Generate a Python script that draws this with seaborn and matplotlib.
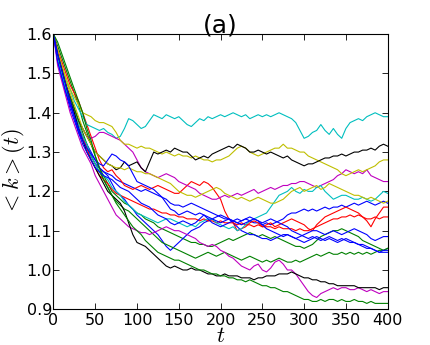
import matplotlib as mpl
mpl.use("Agg")
import seaborn as sns
import pandas as pd
import numpy as np
plt = mpl.pyplot

# <k>(t) for each run, sampled every 5 steps from t=0 to t=400
b1 = [1.6, 1.53, 1.49, 1.45, 1.41, 1.38, 1.35, 1.33, 1.31, 1.29, 1.27, 1.26, 1.25, 1.245, 1.24, 1.23, 1.225, 1.22, 1.215, 1.21,
      1.205, 1.2, 1.205, 1.2, 1.195, 1.19, 1.185, 1.18, 1.17, 1.165, 1.165, 1.16, 1.165, 1.17, 1.165, 1.16, 1.155, 1.15, 1.145, 1.14,
      1.135, 1.13, 1.13, 1.125, 1.13, 1.125, 1.13, 1.125, 1.12, 1.12, 1.115, 1.12, 1.115, 1.12, 1.125, 1.13, 1.14, 1.145, 1.145, 1.15,
      1.155, 1.15, 1.155, 1.15, 1.155, 1.16, 1.155, 1.16, 1.16, 1.165, 1.16, 1.165, 1.17, 1.165, 1.17, 1.175, 1.17, 1.165, 1.17, 1.175, 1.17]
g1 = [1.6, 1.57, 1.54, 1.51, 1.48, 1.45, 1.42, 1.38, 1.35, 1.32, 1.29, 1.26, 1.24, 1.22, 1.2, 1.19, 1.18, 1.17, 1.165, 1.155,
      1.145, 1.14, 1.13, 1.125, 1.12, 1.11, 1.105, 1.1, 1.095, 1.09, 1.085, 1.08, 1.075, 1.07, 1.07, 1.065, 1.065, 1.06, 1.06, 1.065,
      1.07, 1.075, 1.08, 1.075, 1.08, 1.085, 1.09, 1.095, 1.09, 1.085, 1.09, 1.085, 1.08, 1.085, 1.08, 1.075, 1.07, 1.065, 1.06, 1.06,
      1.055, 1.06, 1.065, 1.075, 1.085, 1.09, 1.095, 1.1, 1.1, 1.105, 1.1, 1.095, 1.09, 1.085, 1.075, 1.07, 1.065, 1.06, 1.055, 1.05, 1.055]
r1 = [1.6, 1.56, 1.53, 1.5, 1.47, 1.45, 1.43, 1.4, 1.37, 1.34, 1.31, 1.28, 1.26, 1.25, 1.255, 1.24, 1.23, 1.215, 1.21, 1.205,
      1.21, 1.215, 1.21, 1.205, 1.21, 1.215, 1.21, 1.205, 1.2, 1.195, 1.195, 1.205, 1.215, 1.225, 1.22, 1.215, 1.225, 1.22, 1.21, 1.195,
      1.18, 1.15, 1.13, 1.12, 1.1, 1.105, 1.11, 1.12, 1.125, 1.12, 1.11, 1.115, 1.12, 1.11, 1.115, 1.12, 1.125, 1.13, 1.125, 1.12,
      1.115, 1.105, 1.1, 1.115, 1.125, 1.135, 1.14, 1.145, 1.15, 1.155, 1.16, 1.155, 1.15, 1.145, 1.135, 1.125, 1.11, 1.13, 1.145, 1.16, 1.16]
c1 = [1.6, 1.55, 1.52, 1.48, 1.46, 1.43, 1.41, 1.39, 1.37, 1.365, 1.36, 1.355, 1.36, 1.35, 1.345, 1.335, 1.34, 1.36, 1.385, 1.38,
      1.37, 1.36, 1.365, 1.38, 1.395, 1.39, 1.385, 1.395, 1.39, 1.385, 1.39, 1.38, 1.37, 1.365, 1.375, 1.385, 1.38, 1.39, 1.385, 1.39,
      1.395, 1.39, 1.395, 1.4, 1.395, 1.39, 1.395, 1.385, 1.39, 1.395, 1.39, 1.395, 1.39, 1.395, 1.4, 1.395, 1.39, 1.385, 1.375, 1.355,
      1.335, 1.34, 1.35, 1.355, 1.37, 1.355, 1.345, 1.36, 1.345, 1.335, 1.36, 1.375, 1.38, 1.385, 1.38, 1.39, 1.395, 1.4, 1.395, 1.39, 1.39]
m1 = [1.6, 1.55, 1.51, 1.47, 1.44, 1.41, 1.38, 1.36, 1.34, 1.335, 1.34, 1.35, 1.35, 1.345, 1.34, 1.335, 1.33, 1.32, 1.31, 1.3,
      1.28, 1.26, 1.25, 1.245, 1.24, 1.235, 1.24, 1.245, 1.24, 1.235, 1.225, 1.22, 1.215, 1.21, 1.205, 1.195, 1.19, 1.185, 1.18, 1.18,
      1.185, 1.19, 1.185, 1.19, 1.195, 1.19, 1.195, 1.2, 1.205, 1.195, 1.2, 1.205, 1.21, 1.205, 1.21, 1.215, 1.215, 1.22, 1.22, 1.225,
      1.225, 1.22, 1.215, 1.21, 1.215, 1.22, 1.225, 1.23, 1.24, 1.245, 1.255, 1.25, 1.245, 1.25, 1.245, 1.255, 1.24, 1.235, 1.23, 1.225, 1.225]
y1 = [1.6, 1.55, 1.52, 1.49, 1.46, 1.44, 1.42, 1.4, 1.395, 1.39, 1.38, 1.375, 1.375, 1.37, 1.365, 1.35, 1.33, 1.32, 1.32, 1.315,
      1.31, 1.315, 1.31, 1.31, 1.305, 1.3, 1.295, 1.3, 1.295, 1.29, 1.295, 1.29, 1.29, 1.285, 1.29, 1.285, 1.28, 1.28, 1.275, 1.28,
      1.28, 1.285, 1.29, 1.3, 1.31, 1.315, 1.31, 1.3, 1.295, 1.29, 1.295, 1.3, 1.305, 1.31, 1.31, 1.32, 1.31, 1.31, 1.305, 1.3,
      1.3, 1.29, 1.285, 1.28, 1.275, 1.27, 1.265, 1.26, 1.255, 1.245, 1.24, 1.245, 1.25, 1.255, 1.25, 1.255, 1.26, 1.265, 1.275, 1.28, 1.28]
k1 = [1.6, 1.54, 1.51, 1.47, 1.44, 1.41, 1.38, 1.36, 1.34, 1.32, 1.3, 1.29, 1.28, 1.27, 1.265, 1.255, 1.26, 1.275, 1.265, 1.27,
      1.275, 1.26, 1.25, 1.275, 1.3, 1.295, 1.3, 1.305, 1.3, 1.31, 1.305, 1.3, 1.3, 1.29, 1.28, 1.285, 1.29, 1.285, 1.295, 1.3,
      1.305, 1.31, 1.315, 1.31, 1.32, 1.315, 1.31, 1.3, 1.3, 1.305, 1.3, 1.295, 1.3, 1.295, 1.29, 1.285, 1.29, 1.28, 1.275, 1.27,
      1.265, 1.27, 1.27, 1.275, 1.28, 1.285, 1.285, 1.29, 1.29, 1.295, 1.29, 1.295, 1.3, 1.3, 1.305, 1.305, 1.31, 1.305, 1.315, 1.32, 1.315]
b2 = [1.6, 1.54, 1.5, 1.46, 1.42, 1.39, 1.36, 1.34, 1.32, 1.3, 1.28, 1.26, 1.25, 1.24, 1.22, 1.2, 1.19, 1.18, 1.165, 1.155,
      1.14, 1.13, 1.12, 1.11, 1.1, 1.09, 1.075, 1.06, 1.05, 1.06, 1.07, 1.08, 1.09, 1.1, 1.105, 1.11, 1.12, 1.125, 1.13, 1.135,
      1.14, 1.135, 1.13, 1.12, 1.11, 1.1, 1.095, 1.09, 1.09, 1.085, 1.08, 1.08, 1.075, 1.08, 1.085, 1.09, 1.09, 1.085, 1.08, 1.085,
      1.09, 1.095, 1.1, 1.1, 1.095, 1.09, 1.095, 1.1, 1.095, 1.09, 1.095, 1.1, 1.105, 1.1, 1.095, 1.09, 1.08, 1.075, 1.08, 1.085, 1.085]
g2 = [1.6, 1.55, 1.51, 1.47, 1.44, 1.41, 1.38, 1.35, 1.32, 1.29, 1.27, 1.25, 1.23, 1.21, 1.19, 1.175, 1.165, 1.155, 1.15, 1.14,
      1.13, 1.12, 1.11, 1.1, 1.09, 1.08, 1.07, 1.065, 1.06, 1.055, 1.05, 1.045, 1.04, 1.035, 1.03, 1.035, 1.04, 1.045, 1.04, 1.035,
      1.04, 1.045, 1.04, 1.035, 1.03, 1.025, 1.03, 1.035, 1.03, 1.025, 1.02, 1.025, 1.02, 1.025, 1.03, 1.025, 1.02, 1.02, 1.025, 1.02,
      1.025, 1.03, 1.035, 1.04, 1.035, 1.04, 1.045, 1.04, 1.04, 1.045, 1.04, 1.045, 1.04, 1.045, 1.04, 1.045, 1.04, 1.045, 1.05, 1.05, 1.055]
r2 = [1.6, 1.55, 1.51, 1.47, 1.43, 1.4, 1.37, 1.34, 1.31, 1.28, 1.26, 1.24, 1.23, 1.22, 1.205, 1.195, 1.19, 1.185, 1.18, 1.175,
      1.17, 1.165, 1.16, 1.155, 1.155, 1.15, 1.145, 1.145, 1.14, 1.14, 1.135, 1.135, 1.13, 1.13, 1.13, 1.125, 1.13, 1.125, 1.125, 1.12,
      1.125, 1.12, 1.12, 1.12, 1.115, 1.12, 1.115, 1.115, 1.11, 1.115, 1.11, 1.11, 1.11, 1.105, 1.11, 1.105, 1.105, 1.105, 1.1, 1.105,
      1.1, 1.1, 1.105, 1.11, 1.115, 1.12, 1.125, 1.13, 1.13, 1.135, 1.135, 1.14, 1.135, 1.14, 1.135, 1.13, 1.13, 1.135, 1.13, 1.135, 1.135]
c2 = [1.6, 1.54, 1.5, 1.46, 1.43, 1.4, 1.37, 1.34, 1.32, 1.29, 1.27, 1.25, 1.24, 1.23, 1.21, 1.2, 1.19, 1.175, 1.165, 1.155,
      1.145, 1.14, 1.135, 1.13, 1.125, 1.12, 1.125, 1.13, 1.13, 1.125, 1.12, 1.115, 1.11, 1.115, 1.11, 1.12, 1.125, 1.13, 1.13, 1.12,
      1.115, 1.11, 1.105, 1.11, 1.1, 1.105, 1.115, 1.125, 1.13, 1.135, 1.14, 1.145, 1.16, 1.175, 1.19, 1.195, 1.2, 1.21, 1.2, 1.195,
      1.205, 1.2, 1.2, 1.21, 1.215, 1.2, 1.19, 1.18, 1.185, 1.19, 1.19, 1.185, 1.18, 1.18, 1.185, 1.18, 1.175, 1.18, 1.19, 1.2, 1.195]
m2 = [1.6, 1.52, 1.48, 1.44, 1.4, 1.37, 1.34, 1.31, 1.29, 1.27, 1.24, 1.22, 1.2, 1.18, 1.16, 1.14, 1.13, 1.12, 1.11, 1.105,
      1.1, 1.095, 1.095, 1.09, 1.095, 1.1, 1.105, 1.11, 1.105, 1.1, 1.1, 1.095, 1.09, 1.085, 1.08, 1.07, 1.065, 1.06, 1.065, 1.06,
      1.05, 1.045, 1.035, 1.03, 1.02, 1.01, 1.005, 1.0, 1.01, 1.015, 1.0, 0.995, 1.005, 1.02, 1.025, 1.015, 1.0, 1.0, 0.99, 0.975,
      0.96, 0.945, 0.935, 0.93, 0.94, 0.945, 0.95, 0.955, 0.95, 0.955, 0.955, 0.95, 0.95, 0.955, 0.95, 0.945, 0.95, 0.945, 0.94, 0.945, 0.945]
y2 = [1.6, 1.56, 1.52, 1.48, 1.45, 1.42, 1.39, 1.36, 1.34, 1.32, 1.3, 1.29, 1.28, 1.27, 1.265, 1.26, 1.26, 1.255, 1.26, 1.255,
      1.25, 1.25, 1.245, 1.245, 1.24, 1.235, 1.23, 1.225, 1.22, 1.21, 1.2, 1.195, 1.19, 1.19, 1.185, 1.19, 1.195, 1.2, 1.205, 1.21,
      1.205, 1.195, 1.19, 1.185, 1.18, 1.185, 1.18, 1.175, 1.18, 1.185, 1.18, 1.175, 1.17, 1.17, 1.175, 1.18, 1.19, 1.2, 1.205, 1.21,
      1.2, 1.205, 1.21, 1.215, 1.205, 1.21, 1.22, 1.215, 1.21, 1.205, 1.2, 1.195, 1.19, 1.19, 1.185, 1.18, 1.185, 1.18, 1.175, 1.17, 1.175]
k2 = [1.6, 1.55, 1.51, 1.47, 1.43, 1.4, 1.36, 1.33, 1.3, 1.28, 1.26, 1.24, 1.22, 1.2, 1.19, 1.18, 1.17, 1.15, 1.12, 1.09,
      1.07, 1.065, 1.06, 1.05, 1.04, 1.03, 1.02, 1.01, 1.005, 1.01, 1.005, 1.0, 1.0, 1.005, 1.0, 1.0, 0.995, 0.99, 0.99, 0.985,
      0.985, 0.99, 0.985, 0.985, 0.985, 0.98, 0.98, 0.98, 0.975, 0.98, 0.98, 0.985, 0.985, 0.985, 0.99, 0.99, 0.99, 0.995, 0.99, 0.985,
      0.98, 0.98, 0.975, 0.975, 0.97, 0.97, 0.965, 0.965, 0.96, 0.96, 0.96, 0.96, 0.96, 0.955, 0.955, 0.955, 0.955, 0.955, 0.95, 0.955, 0.955]
b3 = [1.6, 1.55, 1.51, 1.47, 1.43, 1.39, 1.36, 1.33, 1.31, 1.295, 1.28, 1.27, 1.265, 1.28, 1.295, 1.29, 1.28, 1.275, 1.265, 1.245,
      1.225, 1.22, 1.215, 1.21, 1.205, 1.195, 1.185, 1.17, 1.155, 1.15, 1.14, 1.145, 1.15, 1.145, 1.14, 1.145, 1.14, 1.135, 1.13, 1.125,
      1.12, 1.125, 1.13, 1.125, 1.12, 1.125, 1.13, 1.135, 1.13, 1.125, 1.12, 1.125, 1.13, 1.125, 1.12, 1.115, 1.11, 1.1, 1.095, 1.09,
      1.085, 1.08, 1.085, 1.08, 1.075, 1.08, 1.085, 1.08, 1.075, 1.08, 1.075, 1.07, 1.07, 1.065, 1.06, 1.055, 1.055, 1.05, 1.045, 1.045, 1.045]
g3 = [1.6, 1.58, 1.55, 1.52, 1.49, 1.46, 1.43, 1.4, 1.36, 1.33, 1.29, 1.26, 1.23, 1.21, 1.19, 1.17, 1.155, 1.14, 1.125, 1.11,
      1.1, 1.09, 1.075, 1.065, 1.055, 1.045, 1.04, 1.035, 1.03, 1.025, 1.025, 1.02, 1.015, 1.01, 1.005, 1.0, 1.0, 0.995, 0.99, 0.99,
      0.985, 0.985, 0.98, 0.98, 0.975, 0.975, 0.97, 0.975, 0.97, 0.965, 0.96, 0.96, 0.955, 0.955, 0.95, 0.945, 0.945, 0.94, 0.935, 0.93,
      0.925, 0.925, 0.92, 0.92, 0.925, 0.92, 0.925, 0.925, 0.92, 0.925, 0.92, 0.92, 0.925, 0.92, 0.92, 0.915, 0.92, 0.915, 0.915, 0.915, 0.915]
b4 = [1.6, 1.53, 1.49, 1.45, 1.42, 1.39, 1.35, 1.32, 1.3, 1.28, 1.26, 1.25, 1.24, 1.235, 1.23, 1.22, 1.21, 1.205, 1.2, 1.19,
      1.18, 1.17, 1.165, 1.16, 1.15, 1.14, 1.135, 1.13, 1.12, 1.115, 1.12, 1.125, 1.12, 1.115, 1.12, 1.13, 1.14, 1.13, 1.12, 1.115,
      1.11, 1.115, 1.12, 1.125, 1.12, 1.115, 1.12, 1.125, 1.13, 1.125, 1.115, 1.105, 1.1, 1.095, 1.09, 1.085, 1.09, 1.085, 1.08, 1.075,
      1.07, 1.075, 1.08, 1.085, 1.08, 1.075, 1.08, 1.075, 1.07, 1.075, 1.08, 1.075, 1.07, 1.065, 1.065, 1.06, 1.055, 1.05, 1.045, 1.05, 1.05]

runs = [b1, g1, r1, c1, m1, y1, k1, b2, g2, r2, c2, m2, y2, k2, b3, g3, b4]
colors = ['b', 'g', 'r', 'c', 'm', 'y', 'k', 'b', 'g', 'r', 'c', 'm', 'y', 'k', 'b', 'g', 'b']

frames = []
for i, vals in enumerate(runs):
    t = np.linspace(0, 400, len(vals))
    frames.append(pd.DataFrame({'t': t, 'k': vals, 'run': i}))
data = pd.concat(frames, ignore_index=True)

mpl.rcParams['mathtext.fontset'] = 'cm'
mpl.rcParams['font.family'] = 'DejaVu Sans'

fig = plt.figure(figsize=(4.31, 3.45), dpi=100)
ax = fig.add_axes([0.124, 0.1035, 0.7755, 0.7975])
sns.lineplot(data=data, x='t', y='k', hue='run', palette=colors, legend=False,
             linewidth=0.8, ax=ax, estimator=None, sort=False)

ax.set_xlim(0, 400)
ax.set_ylim(0.9, 1.6)
ax.set_xticks(np.arange(0, 401, 50))
ax.set_yticks(np.arange(0.9, 1.61, 0.1))
ax.set_yticklabels(['0.9', '1.0', '1.1', '1.2', '1.3', '1.4', '1.5', '1.6'])
ax.tick_params(direction='in', top=True, right=True, length=4, width=0.6, labelsize=11.5)
ax.tick_params(axis='y', pad=1)
ax.tick_params(axis='x', pad=3)
for s in ax.spines.values():
    s.set_linewidth(0.8)
ax.set_xlabel('$t$', fontsize=16)
ax.set_ylabel('$<k>(t)$', fontsize=16)
ax.xaxis.set_label_coords(0.5, -0.062)
ax.yaxis.set_label_coords(-0.078, 0.5)
ax.set_title('(a)', fontsize=18, pad=1)

fig.savefig('out.png', dpi=100)
